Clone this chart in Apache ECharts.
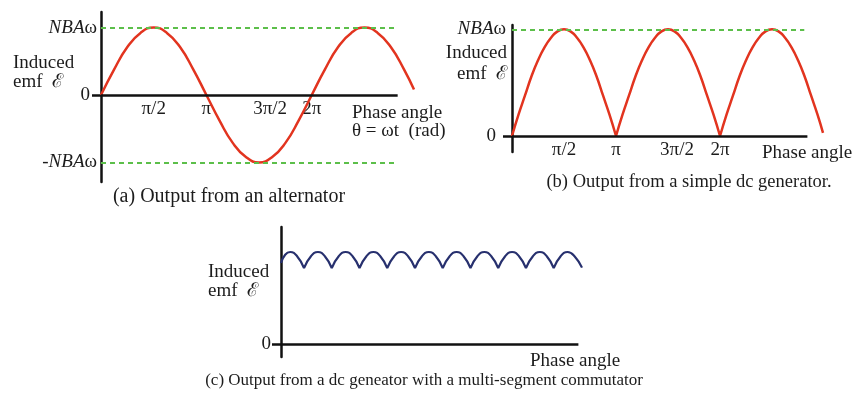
<!DOCTYPE html>
<html>
<head>
<meta charset="utf-8">
<script src="https://cdn.jsdelivr.net/npm/echarts@6/dist/echarts.min.js"></script>
<style>html,body{margin:0;padding:0;background:#fff}#c{width:864px;height:394px}</style>
</head>
<body>
<div id="c"></div>
<script>
// ---- data (phase in units of π for a/b, in commutator segments for c) ----
const phaseA = [0,0.125,0.25,0.375,0.5,0.625,0.75,0.875,1,1.125,1.25,1.375,1.5,1.625,1.75,1.875,2,2.125,2.25,2.375,2.5,2.625,2.75,2.875,2.97];
const emfA   = [0,0.38,0.71,0.92,1,0.92,0.71,0.38,0,-0.38,-0.71,-0.92,-1,-0.92,-0.71,-0.38,0,0.38,0.71,0.92,1,0.92,0.71,0.38,0.08];

const phaseB = [
  0,0.0625,0.125,0.1875,0.25,0.3125,0.375,0.4375,0.5,0.5625,0.625,0.6875,0.75,0.8125,0.875,0.9375,1,
  1,
  1,1.0625,1.125,1.1875,1.25,1.3125,1.375,1.4375,1.5,1.5625,1.625,1.6875,1.75,1.8125,1.875,1.9375,2,
  2,
  2,2.0625,2.125,2.1875,2.25,2.3125,2.375,2.4375,2.5,2.5625,2.625,2.6875,2.75,2.8125,2.875,2.9375,2.99];
const emfB = [
  0,0.2,0.38,0.56,0.71,0.83,0.92,0.98,1,0.98,0.92,0.83,0.71,0.56,0.38,0.2,0,
  null,
  0,0.2,0.38,0.56,0.71,0.83,0.92,0.98,1,0.98,0.92,0.83,0.71,0.56,0.38,0.2,0,
  null,
  0,0.2,0.38,0.56,0.71,0.83,0.92,0.98,1,0.98,0.92,0.83,0.71,0.56,0.38,0.2,0.03];

const phaseC = [0,0.15,0.33,0.58,0.83,
  0.83,0.83,1.08,1.33,1.58,1.83,
  1.83,1.83,2.08,2.33,2.58,2.83,
  2.83,2.83,3.08,3.33,3.58,3.83,
  3.83,3.83,4.08,4.33,4.58,4.83,
  4.83,4.83,5.08,5.33,5.58,5.83,
  5.83,5.83,6.08,6.33,6.58,6.83,
  6.83,6.83,7.08,7.33,7.58,7.83,
  7.83,7.83,8.08,8.33,8.58,8.83,
  8.83,8.83,9.08,9.33,9.58,9.83,
  9.83,9.83,10.08,10.33,10.58,10.85];
const emfC = [0.88,0.97,1,0.955,0.826,
  null,0.826,0.955,1,0.955,0.826,
  null,0.826,0.955,1,0.955,0.826,
  null,0.826,0.955,1,0.955,0.826,
  null,0.826,0.955,1,0.955,0.826,
  null,0.826,0.955,1,0.955,0.826,
  null,0.826,0.955,1,0.955,0.826,
  null,0.826,0.955,1,0.955,0.826,
  null,0.826,0.955,1,0.955,0.826,
  null,0.826,0.955,1,0.955,0.826,
  null,0.826,0.955,1,0.955,0.83];

const phaseTicks = [0.5, 1, 1.5, 2];
const phaseTickLabels = ['π/2', 'π', '3π/2', '2π'];
const levelTicksA = [-1, 0, 1];
const levelTicksB = [0, 1];
const levelTicksC = [0];
// axis-line and reference-line extents (phase units)
const axisEndA = 2.815, axisEndB = 2.84, axisEndC = 10.72;
const refEndA = 2.79, refEndB = 2.81;
const captions = ['(a) Output from an alternator', '(b) Output from a simple dc generator.', '(c) Output from a dc geneator with a multi-segment commutator'];

// ---- styling ----
const SERIF = '"Liberation Serif","DejaVu Serif","Times New Roman",serif';
const FS = 19;
const TXT = '#1c1c1c';
const RED = '#e2341f';
const NAVY = '#27306e';
const GREEN = '#5cbf4a';
const zip = (xs, ys) => xs.map((x, i) => [x, ys[i]]);

function phaseLabel(v) {
  const i = phaseTicks.indexOf(v);
  if (i < 0) return '';
  return i === 2 ? '{s|' + phaseTickLabels[i] + '}' : '{n|' + phaseTickLabels[i] + '}';
}
function levelLabel(v) {
  if (v === 1) return '{i|NBA}{n|ω}';
  if (v === -1) return '{n|-}{i|NBA}{n|ω}';
  return '{z|0}';
}
const richBase = {
  n: { fontFamily: SERIF, fontSize: FS, color: TXT },
  i: { fontFamily: SERIF, fontSize: FS, color: TXT, fontStyle: 'italic' }
};

function xAxisCfg(gi, max, shiftUp, sPad) {
  return {
    gridIndex: gi, type: 'value', min: 0, max: max, position: 'bottom', offset: -shiftUp,
    axisLine: { show: false, onZero: false },
    axisTick: { show: false }, splitLine: { show: false },
    axisLabel: sPad !== null ? {
      show: true, customValues: phaseTicks, formatter: phaseLabel, margin: 5,
      rich: Object.assign({ s: { fontFamily: SERIF, fontSize: FS, color: TXT, padding: [0, 0, 0, sPad] } }, richBase)
    } : { show: false }
  };
}
function yAxisCfg(gi, min, max, ticks, zeroPad, margin) {
  return {
    gridIndex: gi, type: 'value', min: min, max: max,
    axisLine: { show: true, onZero: false, lineStyle: { color: '#111', width: 2.5 } },
    axisTick: { show: true, customValues: [0], length: 9, inside: false, lineStyle: { color: '#111', width: 2.5 } },
    splitLine: { show: false },
    axisLabel: {
      show: true, customValues: ticks, formatter: levelLabel, margin: margin,
      rich: Object.assign({ z: { fontFamily: SERIF, fontSize: FS, color: TXT, padding: [0, zeroPad, 0, 0] } }, richBase)
    }
  };
}
function txt(x, y, text, align, size) {
  return { type: 'text', x: x, y: y, style: { text: text, fontFamily: SERIF, fontSize: size || FS, fill: TXT, textAlign: align || 'left', textVerticalAlign: 'middle' } };
}
const axisLS = { type: 'solid', color: '#111', width: 2.5 };
const dashLS = { type: [5, 4], color: GREEN, width: 2 };
function guides(items) {
  return { silent: true, symbol: 'none', animation: false, label: { show: false }, data: items };
}

const chart = echarts.init(document.getElementById('c'), null, { renderer: 'canvas' });
chart.setOption({
  animation: false,
  backgroundColor: '#fff',
  grid: [
    { left: 101, top: 12, width: 313, height: 170 },
    { left: 512, top: 25, width: 311, height: 127 },
    { left: 281, top: 227, width: 301, height: 130 }
  ],
  xAxis: [
    xAxisCfg(0, 2.97, 87, 22),
    xAxisCfg(1, 2.99, 16, 18),
    xAxisCfg(2, 10.85, 13, null)
  ],
  yAxis: [
    yAxisCfg(0, -1.29, 1.23, levelTicksA, 7, 4),
    yAxisCfg(1, -0.15, 1.04, levelTicksB, 10, 6),
    yAxisCfg(2, -0.141, 1.272, levelTicksC, 4, 6)
  ],
  series: [
    { type: 'line', xAxisIndex: 0, yAxisIndex: 0, data: zip(phaseA, emfA), smooth: true, showSymbol: false,
      lineStyle: { color: RED, width: 2.5 }, z: 3,
      markLine: guides([
        [{ coord: [0, 0], lineStyle: axisLS }, { coord: [axisEndA, 0] }],
        [{ coord: [0, 1], lineStyle: dashLS }, { coord: [refEndA, 1] }],
        [{ coord: [0, -1], lineStyle: dashLS }, { coord: [refEndA, -1] }]
      ]) },
    { type: 'line', xAxisIndex: 1, yAxisIndex: 1, data: zip(phaseB, emfB), smooth: true, showSymbol: false, connectNulls: false,
      lineStyle: { color: RED, width: 2.5 }, z: 3,
      markLine: guides([
        [{ coord: [0, 0], lineStyle: axisLS }, { coord: [axisEndB, 0] }],
        [{ coord: [0, 1], lineStyle: dashLS }, { coord: [refEndB, 1] }]
      ]) },
    { type: 'line', xAxisIndex: 2, yAxisIndex: 2, data: zip(phaseC, emfC), smooth: true, showSymbol: false, connectNulls: false,
      lineStyle: { color: NAVY, width: 2.2 }, z: 3,
      markLine: guides([
        [{ coord: [0, 0], lineStyle: axisLS }, { coord: [axisEndC, 0] }]
      ]) }
  ],
  graphic: [
    txt(13, 63, 'Induced'), txt(13, 82, 'emf  ℰ'),
    txt(352, 113, 'Phase angle'), txt(352, 131, 'θ = ωt  (rad)'),
    txt(229, 197, captions[0], 'center', 20),
    txt(507, 53, 'Induced', 'right'), txt(507, 74, 'emf  ℰ', 'right'),
    txt(762, 153, 'Phase angle'),
    txt(689, 182, captions[1], 'center', 18.5),
    txt(208, 272, 'Induced'), txt(208, 291, 'emf  ℰ'),
    txt(530, 361, 'Phase angle'),
    txt(424, 381, captions[2], 'center', 17)
  ]
});
</script>
</body>
</html>
